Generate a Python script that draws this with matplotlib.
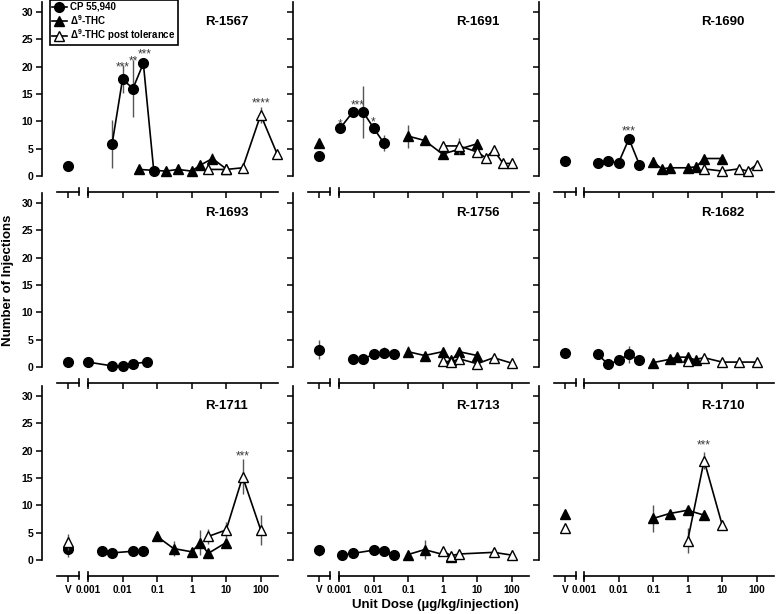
import numpy as np
import matplotlib
matplotlib.use('Agg')
import matplotlib.pyplot as plt
from matplotlib.lines import Line2D
from matplotlib.transforms import blended_transform_factory
from matplotlib.ticker import LogLocator, NullFormatter

plt.rcParams['font.family'] = ['Liberation Sans', 'DejaVu Sans']
plt.rcParams['font.weight'] = 'bold'
plt.rcParams['mathtext.fontset'] = 'custom'
plt.rcParams['mathtext.rm'] = 'Liberation Sans:bold'
plt.rcParams['mathtext.it'] = 'Liberation Sans:bold'
plt.rcParams['mathtext.bf'] = 'Liberation Sans:bold'

# ---- data (number of injections, mean +/- sem) ----
# vehicle points: (value, err) or None
r1567 = dict(name='R-1567',
             cp_v=(1.8, 0.8), thc_v=None, post_v=None,
             cp_dose=[0.005, 0.01, 0.02, 0.04, 0.08],
             cp=[5.9, 17.7, 16.0, 20.6, 1.0],
             cp_err=[4.4, 2.6, 5.2, 0.6, 0.3],
             thc_dose=[0.03, 0.18, 0.4, 1.0, 1.8, 4.0, 10],
             thc=[1.2, 0.9, 1.2, 0.9, 2.0, 3.2, 1.3],
             thc_err=[0.3, 0.3, 0.3, 0.3, 0.4, 1.0, 0.3],
             post_dose=[3, 10, 30, 100, 300],
             post=[1.2, 1.2, 1.5, 11.2, 4.0],
             post_err=[0.3, 0.3, 0.3, 1.5, 0.3],
             stars=[(0.0098, 19.9, '***'), (0.021, 21.0, '**'), (0.045, 22.3, '***'), (100, 13.2, '****')])

r1691 = dict(name='R-1691',
             cp_v=(3.6, 0.3), thc_v=(6.0, 0.3), post_v=None,
             cp_dose=[0.0011, 0.0025, 0.005, 0.01, 0.02],
             cp=[8.8, 11.7, 11.7, 8.8, 6.0],
             cp_err=[0.4, 0.5, 4.7, 0.5, 1.5],
             thc_dose=[0.1, 0.3, 1, 3, 10],
             thc=[7.3, 6.5, 4.0, 4.9, 5.9],
             thc_err=[2.1, 0.4, 0.6, 0.5, 0.8],
             post_dose=[1, 3, 10, 18, 30, 56, 100],
             post=[5.5, 5.5, 4.4, 3.3, 4.8, 2.3, 2.3],
             post_err=[0.5, 1.5, 0.6, 0.4, 0.4, 0.6, 0.5],
             stars=[(0.0011, 9.5, '*'), (0.0035, 12.9, '***'), (0.01, 9.8, '*')])

r1690 = dict(name='R-1690',
             cp_v=(2.7, 0.3), thc_v=None, post_v=None,
             cp_dose=[0.0025, 0.005, 0.01, 0.02, 0.04],
             cp=[2.4, 2.7, 2.4, 6.8, 2.1],
             cp_err=[0.3, 0.3, 0.9, 0.4, 0.3],
             thc_dose=[0.1, 0.18, 0.3, 1, 1.8, 3, 10],
             thc=[2.6, 1.3, 1.5, 1.5, 1.7, 3.2, 3.2],
             thc_err=[0.8, 0.3, 0.6, 0.3, 0.8, 0.3, 0.3],
             post_dose=[3, 10, 30, 56, 100],
             post=[1.3, 0.9, 1.3, 0.9, 2.1],
             post_err=[0.3, 0.3, 0.3, 0.3, 0.3],
             stars=[(0.02, 8.1, '***')])

r1693 = dict(name='R-1693',
             cp_v=(0.9, 0.2), thc_v=None, post_v=None,
             cp_dose=[0.001, 0.005, 0.01, 0.02, 0.05],
             cp=[0.9, 0.2, 0.2, 0.6, 0.9],
             cp_err=[0.2, 0.2, 0.2, 0.2, 0.2],
             thc_dose=[], thc=[], thc_err=[],
             post_dose=[], post=[], post_err=[],
             stars=[])

r1756 = dict(name='R-1756',
             cp_v=(3.2, 1.7), thc_v=None, post_v=None,
             cp_dose=[0.0025, 0.005, 0.01, 0.02, 0.04],
             cp=[1.5, 1.5, 2.3, 2.6, 2.3],
             cp_err=[0.3, 0.3, 0.3, 1.0, 0.3],
             thc_dose=[0.1, 0.3, 1, 1.8, 3, 10],
             thc=[2.8, 2.1, 2.8, 1.2, 2.8, 2.1],
             thc_err=[1.0, 0.3, 0.3, 0.3, 0.8, 0.3],
             post_dose=[1, 1.8, 3, 10, 30, 100],
             post=[1.1, 0.9, 1.5, 0.6, 1.7, 0.7],
             post_err=[0.3, 0.3, 0.3, 0.3, 0.3, 0.3],
             stars=[])

r1682 = dict(name='R-1682',
             cp_v=(2.6, 0.3), thc_v=None, post_v=None,
             cp_dose=[0.0025, 0.005, 0.01, 0.02, 0.04],
             cp=[2.3, 0.5, 1.2, 2.3, 1.2],
             cp_err=[0.5, 0.3, 0.3, 1.6, 0.3],
             thc_dose=[0.1, 0.3, 0.5, 1, 1.8],
             thc=[0.8, 1.4, 1.8, 1.8, 1.2],
             thc_err=[0.3, 0.3, 0.3, 0.3, 0.3],
             post_dose=[1, 3, 10, 30, 100],
             post=[1.1, 1.7, 0.9, 0.9, 0.9],
             post_err=[0.3, 0.3, 0.3, 0.3, 0.3],
             stars=[])

r1711 = dict(name='R-1711',
             cp_v=(2.1, 1.5), thc_v=None, post_v=(3.3, 1.5),
             cp_dose=[0.0025, 0.005, 0.02, 0.04],
             cp=[1.6, 1.3, 1.6, 1.6],
             cp_err=[0.3, 0.3, 0.3, 0.3],
             thc_dose=[0.1, 0.3, 1, 1.8, 3, 10],
             thc=[4.3, 2.1, 1.5, 3.2, 1.2, 3.2],
             thc_err=[0.3, 1.3, 0.3, 2.3, 0.3, 0.3],
             post_dose=[3, 10, 30, 100],
             post=[4.3, 5.5, 15.2, 5.5],
             post_err=[1.3, 1.5, 3.2, 2.8],
             stars=[(30, 18.9, '***')])

r1713 = dict(name='R-1713',
             cp_v=(1.8, 1.0), thc_v=None, post_v=None,
             cp_dose=[0.00125, 0.0025, 0.01, 0.02, 0.04],
             cp=[0.9, 1.2, 1.8, 1.6, 0.9],
             cp_err=[0.3, 0.5, 0.3, 0.3, 0.3],
             thc_dose=[0.1, 0.3, 1.8],
             thc=[1.0, 1.9, 0.6],
             thc_err=[0.3, 1.8, 0.3],
             post_dose=[1, 1.8, 3, 30, 100],
             post=[1.6, 0.8, 1.1, 1.4, 0.9],
             post_err=[0.3, 0.3, 0.3, 0.3, 0.3],
             stars=[])

r1710 = dict(name='R-1710',
             cp_v=None, thc_v=(8.5, 0.3), post_v=(5.8, 0.8),
             cp_dose=[], cp=[], cp_err=[],
             thc_dose=[0.1, 0.3, 1, 3],
             thc=[7.6, 8.5, 9.1, 8.2],
             thc_err=[2.4, 0.3, 0.5, 0.6],
             post_dose=[1, 3, 10],
             post=[3.5, 18.2, 6.4],
             post_err=[2.3, 1.5, 0.4],
             stars=[(3, 21.0, '***')])

panels = [[r1567, r1691, r1690],
          [r1693, r1756, r1682],
          [r1711, r1713, r1710]]

# ---- layout in pixels ----
W, H = 777, 614
V_LEFT = [57, 308, 554]
V_W = 22
LOG_LEFT = [88, 339, 584]
LOG_W = 190
ZERO_PX = [176, 367, 560]
PX_PER_UNIT = 5.467
YMIN, YMAX = -2.9, 32

ERRC = '#555555'
CP_STYLE = dict(color='k', marker='o', ms=7, lw=1.2, mec='k', mfc='k')
THC_STYLE = dict(color='k', marker='^', ms=7.5, lw=1.2, mec='k', mfc='k')
POST_STYLE = dict(color='k', marker='^', ms=7.5, lw=1.2, mec='k', mfc='white', mew=1.0)

fig = plt.figure(figsize=(W / 100, H / 100), dpi=100)


def draw(ax, x, y, e, style, z):
    x = np.asarray(x, float)
    y = np.asarray(y, float)
    e = np.asarray(e, float)
    if len(x) == 0:
        return
    ax.vlines(x, y - e, y + e, color=ERRC, lw=1.0, zorder=z - 0.5, clip_on=False)
    ax.plot(x, y, clip_on=False, zorder=z, **style)


for r in range(3):
    for c in range(3):
        p = panels[r][c]
        hpx = (YMAX - YMIN) * PX_PER_UNIT
        bottom_px = ZERO_PX[r] - YMIN * PX_PER_UNIT
        b = 1 - bottom_px / H
        h = hpx / H
        axv = fig.add_axes([V_LEFT[c] / W, b, V_W / W, h])
        axl = fig.add_axes([LOG_LEFT[c] / W, b, LOG_W / W, h])

        # vehicle axis with the y spine
        axv.set_xlim(-1, 1)
        axv.set_ylim(YMIN, YMAX)
        axv.patch.set_visible(False)
        for s in ['top', 'right']:
            axv.spines[s].set_visible(False)
        axv.spines['left'].set_position(('outward', 15 * 0.72))
        axv.spines['left'].set_bounds(0, 31.8)
        axv.spines['left'].set_linewidth(1.2)
        axv.spines['bottom'].set_linewidth(1.2)
        axv.set_yticks(np.arange(0, 31, 5))
        axv.set_xticks([0])
        axv.tick_params(direction='out', length=4, width=1.1, labelsize=7.5, pad=2.5)
        if c == 0:
            axv.set_yticklabels([str(v) for v in range(0, 31, 5)], fontweight='bold')
        else:
            axv.set_yticklabels([])
        if r == 2:
            axv.set_xticklabels(['V'], fontweight='bold', fontsize=7.2)
        else:
            axv.set_xticklabels([])

        # log dose axis
        axl.set_xscale('log')
        axl.set_xlim(0.001, 10 ** 2.5)
        axl.set_ylim(YMIN, YMAX)
        axl.patch.set_visible(False)
        for s in ['top', 'right', 'left']:
            axl.spines[s].set_visible(False)
        axl.spines['bottom'].set_linewidth(1.2)
        axl.set_yticks([])
        major = [0.001, 0.01, 0.1, 1, 10, 100]
        axl.set_xticks(major)
        axl.xaxis.set_minor_locator(LogLocator(base=10, subs=np.arange(2, 10)))
        axl.xaxis.set_minor_formatter(NullFormatter())
        axl.tick_params(which='major', direction='out', length=4, width=1.1, pad=2.5)
        axl.tick_params(which='minor', direction='out', length=2, width=0.8)
        if r == 2:
            axl.set_xticklabels(['0.001', '0.01', '0.1', '1', '10', '100'],
                                fontweight='bold', fontsize=7.2)
        else:
            axl.set_xticklabels([])

        # break marks
        ypx = bottom_px
        for xpx in [V_LEFT[c] + V_W, LOG_LEFT[c]]:
            fig.add_artist(Line2D([xpx / W, xpx / W], [1 - (ypx + 3) / H, 1 - (ypx - 4) / H],
                                  transform=fig.transFigure, color='k', lw=1.2))

        # vehicle points
        if p['cp_v'] is not None:
            draw(axv, [0], [p['cp_v'][0]], [p['cp_v'][1]], dict(CP_STYLE, lw=0), 3)
        if p['thc_v'] is not None:
            draw(axv, [0], [p['thc_v'][0]], [p['thc_v'][1]], dict(THC_STYLE, lw=0), 4)
        if p['post_v'] is not None:
            draw(axv, [0], [p['post_v'][0]], [p['post_v'][1]], dict(POST_STYLE, lw=0), 5)

        # dose-effect curves
        draw(axl, p['cp_dose'], p['cp'], p['cp_err'], CP_STYLE, 3)
        draw(axl, p['thc_dose'], p['thc'], p['thc_err'], THC_STYLE, 4)
        draw(axl, p['post_dose'], p['post'], p['post_err'], POST_STYLE, 5)

        for sx, sy, st in p['stars']:
            axl.text(sx, sy, st, ha='center', va='center', fontsize=8.5, zorder=7,
                     fontweight='normal', color='#3a3a3a')

        tr = blended_transform_factory(axl.transAxes, axl.transData)
        axl.text(0.73, 28.2, p['name'], transform=tr, ha='center', va='center',
                 fontsize=9.5, fontweight='bold')

fig.text(8 / W, 1 - 280 / H, 'Number of Injections', rotation=90, ha='center',
         va='center', fontsize=9.5, fontweight='bold')
fig.text(435.5 / W, 1 - 605 / H, 'Unit Dose (\u00b5g/kg/injection)', ha='center',
         va='center', fontsize=9.5, fontweight='bold')

handles = [Line2D([], [], **CP_STYLE),
           Line2D([], [], **THC_STYLE),
           Line2D([], [], **POST_STYLE)]
labels = ['CP 55,940', '\u0394$^{9}$-THC', '\u0394$^{9}$-THC post tolerance']
leg = fig.legend(handles, labels, loc='upper left', bbox_to_anchor=(50 / W, 1.0),
                 bbox_transform=fig.transFigure, frameon=True,
                 fancybox=False, framealpha=1, edgecolor='k', borderpad=0.2,
                 labelspacing=0.1, handlelength=1.5, handletextpad=0.4,
                 borderaxespad=0, prop=dict(weight='bold', size=7))
leg.get_frame().set_linewidth(1.2)

fig.savefig('out.png', dpi=100)
